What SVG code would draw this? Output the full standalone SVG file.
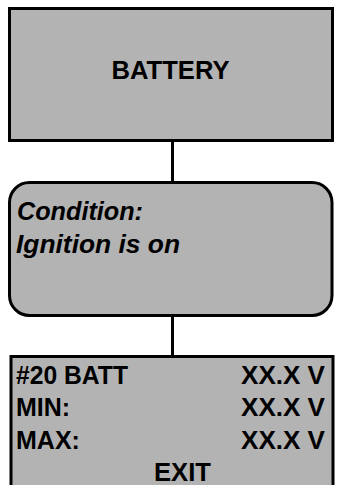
<svg xmlns="http://www.w3.org/2000/svg" width="338" height="485" viewBox="0 0 338 485">
  <style>
    .box { fill: #b3b3b3; stroke: #000; stroke-width: 3; }
    .wire { stroke: #000; stroke-width: 3; fill: none; }
    .t { font-family: "Liberation Sans", Arial, sans-serif; font-weight: bold; font-size: 25px; fill: #000; }
    .it { font-style: italic; }
    .mid { text-anchor: middle; }
    .end { text-anchor: end; }
  </style>
  <rect width="338" height="485" fill="#fff"/>
  <g id="connectors">
    <line class="wire" x1="172.5" y1="140" x2="172.5" y2="183"/>
    <line class="wire" x1="172.5" y1="315" x2="172.5" y2="356"/>
  </g>
  <g id="battery">
    <rect class="box" x="9.5" y="8.5" width="323" height="132"/>
    <text class="t mid" x="170.5" y="79" textLength="118" lengthAdjust="spacingAndGlyphs">BATTERY</text>
  </g>
  <g id="condition">
    <rect class="box" x="9.5" y="182.5" width="322.5" height="133" rx="20" ry="20"/>
    <text class="t it" x="17" y="219.5" textLength="126" lengthAdjust="spacingAndGlyphs">Condition:</text>
    <text class="t it" x="16" y="252.5" textLength="164" lengthAdjust="spacingAndGlyphs">Ignition is on</text>
  </g>
  <g id="readout">
    <rect class="box" x="11" y="356.5" width="322" height="140"/>
    <text class="t" x="16" y="384" textLength="112" lengthAdjust="spacingAndGlyphs">#20 BATT</text>
    <text class="t end" x="325" y="384" textLength="84" lengthAdjust="spacingAndGlyphs">XX.X V</text>
    <text class="t" x="16" y="416">MIN:</text>
    <text class="t end" x="325" y="416" textLength="84" lengthAdjust="spacingAndGlyphs">XX.X V</text>
    <text class="t" x="16" y="449">MAX:</text>
    <text class="t end" x="325" y="449" textLength="84" lengthAdjust="spacingAndGlyphs">XX.X V</text>
    <text class="t mid" x="182.5" y="481" textLength="57" lengthAdjust="spacingAndGlyphs">EXIT</text>
  </g>
</svg>
